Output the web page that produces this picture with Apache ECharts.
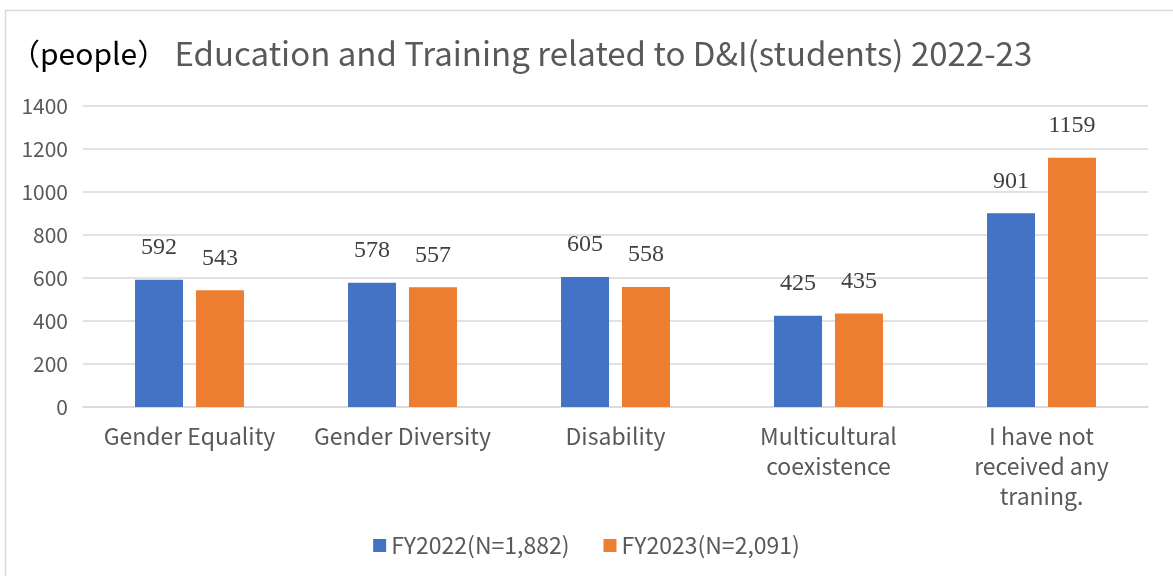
<!DOCTYPE html>
<html><head><meta charset="utf-8">
<script src="https://cdn.jsdelivr.net/npm/echarts@6/dist/echarts.min.js"></script>
<style>html,body{margin:0;padding:0;background:#fff;}#c{width:1173px;height:576px;}</style>
</head><body><div id="c"></div>
<script>
const categories = ['Gender Equality', 'Gender Diversity', 'Disability', 'Multicultural\ncoexistence', 'I have not\nreceived any\ntraning.'];
const fy2022 = [592, 578, 605, 425, 901];
const fy2023 = [543, 557, 558, 435, 1159];
const seriesNames = ['FY2022(N=1,882)', 'FY2023(N=2,091)'];
const yTicks = {min: 0, max: 1400, interval: 200};

const sans = '"Noto Sans CJK JP", "Noto Sans", sans-serif';
const chart = echarts.init(document.getElementById('c'), null, {renderer: 'canvas'});
const labelCfg = {show: true, position: 'top', distance: 20, color: '#404040', fontFamily: '"Liberation Serif", serif', fontSize: 24};
chart.setOption({
  animation: false,
  graphic: [{type: 'rect', shape: {x: 5.5, y: 10.5, width: 1200, height: 600}, style: {fill: 'none', stroke: '#d9d9d9', lineWidth: 1.5}, silent: true}],
  title: {
    text: '{a|（people）}{b| Education and Training related to D&I(students) 2022-23}',
    left: 5, top: 32,
    textStyle: {fontWeight: 'normal', rich: {
      a: {fontFamily: sans, fontSize: 30, color: '#000', fontWeight: 'normal'},
      b: {fontFamily: sans, fontSize: 33, color: '#595959', fontWeight: 'normal'}
    }}
  },
  grid: {left: 83, right: 25, top: 106, bottom: 169, containLabel: false},
  xAxis: {
    type: 'category', data: categories,
    axisLine: {lineStyle: {color: '#d9d9d9', width: 1.5}},
    axisTick: {show: false},
    axisLabel: {color: '#595959', fontFamily: sans, fontSize: 23, lineHeight: 30, margin: 14, interval: 0}
  },
  yAxis: {
    type: 'value', min: yTicks.min, max: yTicks.max, interval: yTicks.interval,
    axisLine: {show: false}, axisTick: {show: false},
    axisLabel: {color: '#595959', fontFamily: sans, fontSize: 21, margin: 15, formatter: v => String(v)},
    splitLine: {lineStyle: {color: '#d9d9d9', width: 1.5}}
  },
  legend: {
    bottom: 14, left: 'center', itemWidth: 13, itemHeight: 13, itemGap: 34, icon: 'rect',
    textStyle: {color: '#595959', fontFamily: sans, fontSize: 23}
  },
  series: [
    {name: seriesNames[0], type: 'bar', data: fy2022, barWidth: 48, barGap: '27%', itemStyle: {color: '#4472C4'}, label: labelCfg},
    {name: seriesNames[1], type: 'bar', data: fy2023, barWidth: 48, itemStyle: {color: '#ED7D31'}, label: labelCfg}
  ]
});
</script></body></html>
